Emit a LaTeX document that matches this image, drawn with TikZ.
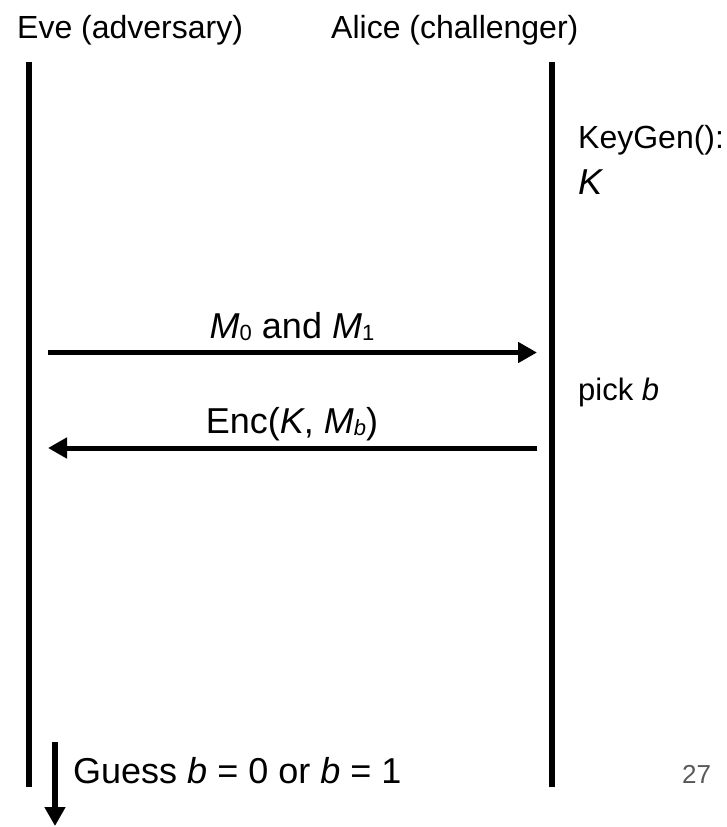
\documentclass[tikz,border=0pt]{standalone}
\usepackage{fontspec}
\setmainfont{Liberation Sans}
\usetikzlibrary{arrows.meta}
\definecolor{pagegray}{HTML}{595959}
\tikzset{
  lifeline/.style={line width=6pt},
  msg/.style={line width=5pt,-{Triangle[length=19pt,width=20pt]}},
  lbl/.style={inner sep=0pt,anchor=base west},
  msglbl/.style={inner sep=0pt,anchor=base},
}
\newcommand{\fs}[1]{\fontsize{#1}{#1}\selectfont}
\newcommand{\lowsub}[1]{\raisebox{-2pt}{\fs{22}#1}}
\begin{document}
\begin{tikzpicture}[x=1pt,y=-1pt]
\useasboundingbox (0,0) rectangle (726,827);
% lifelines
\coordinate (etop) at (29,62);
\coordinate (ebot) at (29,787);
\coordinate (atop) at (552,62);
\coordinate (abot) at (552,787);
\draw[lifeline] (etop) -- (ebot);
\draw[lifeline] (atop) -- (abot);
% titles
\node[lbl] (eve) at (17,38) {\fs{32}Eve (adversary)};
\node[lbl] (alice) at (331,38) {\fs{32}Alice (challenger)};
% keygen
\node[lbl] (keygen) at (578,148) {\fs{32}KeyGen():};
\node[lbl] (key) at (578,194) {\fs{36}\textit{K}};
\node[lbl] (pick) at (578,400) {\fs{31}pick \textit{b}};
% messages
\coordinate (m1s) at (48,352.5);
\coordinate (m1e) at (537,352.5);
\coordinate (m2s) at (537,448);
\coordinate (m2e) at (48,448);
\draw[msg] (m1s) -- (m1e);
\draw[msg] (m2s) -- (m2e);
\node[msglbl] (l1) at (292,338) {\fs{36}\textit{M}\lowsub{0} and \textit{M}\lowsub{1}};
\node[msglbl] (l2) at (292,433) {\fs{36}Enc(\textit{K}, \textit{M}\lowsub{\textit{b}})};
% guess
\coordinate (gs) at (55,742);
\coordinate (ge) at (55,826);
\draw[line width=6pt,-{Triangle[length=19pt,width=20pt]}] (gs) -- (ge);
\node[lbl] (guess) at (73,783) {\fs{36}Guess \textit{b} = 0 or \textit{b} = 1};
\node[lbl,text=pagegray] (page) at (682,783) {\fs{26}27};
\end{tikzpicture}
\end{document}
